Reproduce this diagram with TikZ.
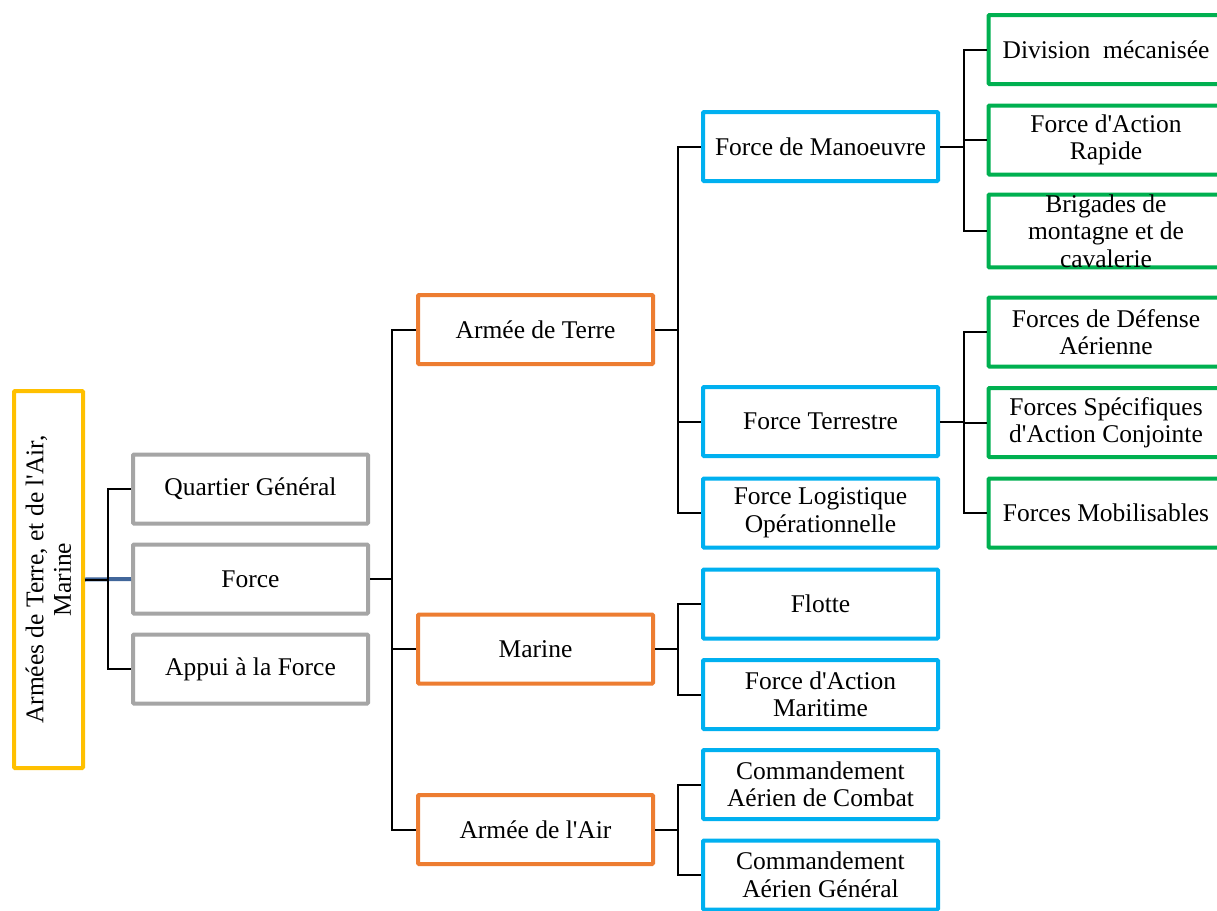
\documentclass[tikz,border=0pt]{standalone}
\usepackage{fontspec}
\setmainfont{Liberation Serif}
\newcommand\ap{\textquotesingle}
\definecolor{cgray}{HTML}{A5A5A5}
\definecolor{corange}{HTML}{ED7D31}
\definecolor{cblue}{HTML}{00B0F0}
\definecolor{cgreen}{HTML}{00B050}
\definecolor{cyellow}{HTML}{FFC000}
\definecolor{clink}{HTML}{41669A}
\tikzset{
  box/.style={draw, line width=4pt, rounded corners=1pt, fill=white, inner sep=0pt,
    minimum width=235pt, minimum height=69pt, align=center,
    font=\fontsize{25.5}{27.5}\selectfont},
  graybox/.style={box, draw=cgray},
  orangebox/.style={box, draw=corange},
  bluebox/.style={box, draw=cblue},
  greenbox/.style={box, draw=cgreen},
  rootbox/.style={box, draw=cyellow, rotate=90, minimum width=377pt, minimum height=69pt},
  link/.style={draw=black, line width=2pt},
}
\begin{document}
\begin{tikzpicture}[x=1pt,y=-1pt]
\clip (0,0) rectangle (1217,910);
\fill[white] (0,0) rectangle (1217,910);
% root
\node[rootbox] (root) at (48.5,579.5) {Armées de Terre, et de l\ap Air,\\Marine};
% level 1
\node[graybox] (qg) at (250.5,489) {Quartier Général};
\node[graybox] (force) at (250.5,579) {Force};
\node[graybox] (appui) at (250.5,669) {Appui à la Force};
% level 2
\node[orangebox] (terre) at (535.5,329.5) {Armée de Terre};
\node[orangebox] (marine) at (535.5,649) {Marine};
\node[orangebox] (air) at (535.5,829.5) {Armée de l\ap Air};
% level 3
\node[bluebox] (fm) at (820.5,146.5) {Force de Manoeuvre};
\node[bluebox] (ft) at (820.5,421.5) {Force Terrestre};
\node[bluebox] (flo) at (820.5,513) {Force Logistique\\Opérationnelle};
\node[bluebox] (flotte) at (820.5,604) {Flotte};
\node[bluebox] (fam) at (820.5,694.5) {Force d\ap Action\\Maritime};
\node[bluebox] (cac) at (820.5,784.5) {Commandement\\Aérien de Combat};
\node[bluebox] (cag) at (820.5,875) {Commandement\\Aérien Général};
% level 4
\node[greenbox] (dm) at (1106,49.5) {Division\ \ mécanisée};
\node[greenbox] (far) at (1106,140) {Force d\ap Action\\Rapide};
\node[greenbox] (bmc) at (1106,231) {Brigades de\\montagne et de\\cavalerie};
\node[greenbox] (fda) at (1106,332) {Forces de Défense\\Aérienne};
\node[greenbox] (fsac) at (1106,422.5) {Forces Spécifiques\\d\ap Action Conjointe};
\node[greenbox] (fmob) at (1106,513) {Forces Mobilisables};
% connectors
\draw[draw=clink, line width=4pt] (root.south) -- (force.west);
\draw[link] (root.south) -- ++(23,0) coordinate (b0);
\draw[link] (qg.west) -- ++(-23,0) |- (appui.west);
\draw[link] (force.east) -- ++(22,0) coordinate (b1);
\draw[link] (terre.west) -- ++(-24,0) |- (air.west);
\draw[link] (marine.west) -- ++(-24,0);
\draw[link] (terre.east) -- ++(23,0) coordinate (b2);
\draw[link] (fm.west) -- ++(-23,0) |- (flo.west);
\draw[link] (ft.west) -- ++(-23,0);
\draw[link] (marine.east) -- ++(23,0);
\draw[link] (flotte.west) -- ++(-23,0) |- (fam.west);
\draw[link] (air.east) -- ++(23,0);
\draw[link] (cac.west) -- ++(-23,0) |- (cag.west);
\draw[link] (fm.east) -- ++(23,0);
\draw[link] (dm.west) -- ++(-23,0) |- (bmc.west);
\draw[link] (far.west) -- ++(-23,0);
\draw[link] (ft.east) -- ++(23,0);
\draw[link] (fda.west) -- ++(-23,0) |- (fmob.west);
\draw[link] (fsac.west) -- ++(-23,0);
\end{tikzpicture}
\end{document}
